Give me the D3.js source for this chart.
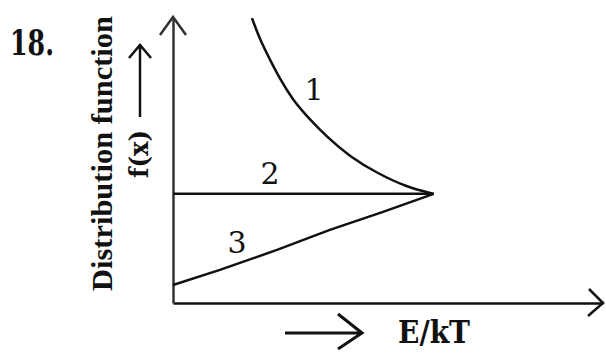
<!DOCTYPE html>
<html>
<head>
<meta charset="utf-8">
<script src="https://cdn.jsdelivr.net/npm/d3@7"></script>
<style>
  body { margin: 0; background: #fff; }
  text { font-family: "DejaVu Serif", "Liberation Serif", serif; fill: #111; }
</style>
</head>
<body>
<svg id="chart" width="606" height="354"></svg>
<script>
// curve readings, x = E/kT, y = f(x)
const curve1X = [0.303, 0.334, 0.372, 0.411, 0.46, 0.514, 0.591, 0.679, 0.783, 0.898, 1.0];
const curve1Y = [2.61, 2.41, 2.23, 2.05, 1.86, 1.71, 1.52, 1.34, 1.19, 1.06, 1.0];
const curve2X = [0, 1.0];
const curve2Y = [1.0, 1.0];
const curve3X = [0, 0.18, 0.399, 0.602, 0.806, 1.0];
const curve3Y = [0.165, 0.303, 0.486, 0.67, 0.835, 1.0];
const curveNames = ["1", "2", "3"];
const labelX = [0.541, 0.372, 0.246];
const labelY = [1.862, 1.09, 0.459];

const svg = d3.select("#chart");
const x = d3.scaleLinear().domain([0, 1.65]).range([173, 603]);
const y = d3.scaleLinear().domain([0, 2.62]).range([303, 17]);
const ink = "#111";

// axes without ticks
svg.append("g")
  .attr("transform", "translate(0," + y(0) + ")")
  .call(d3.axisBottom(x).tickValues([]).tickSizeOuter(0))
  .select(".domain").attr("stroke", ink).attr("stroke-width", 2.5);
svg.append("g")
  .attr("transform", "translate(" + x(0) + ",0)")
  .call(d3.axisLeft(y).tickValues([]).tickSizeOuter(0))
  .select(".domain").attr("stroke", "#333").attr("stroke-width", 2.5);

// open arrow heads at the axis ends
const x1 = x.range()[1], y1 = y.range()[1];
svg.append("path")
  .attr("d", `M${x1 - 14},${y(0) - 14}L${x1},${y(0)}L${x1 - 15},${y(0) + 13}`)
  .attr("fill", "none").attr("stroke", ink).attr("stroke-width", 2.5);
svg.append("path")
  .attr("d", `M${x(0) - 13},${y1 + 18}L${x(0)},${y1}L${x(0) + 13},${y1 + 18}`)
  .attr("fill", "none").attr("stroke", "#333").attr("stroke-width", 2.5);

// curves
const line = d3.line().x(d => x(d[0])).y(d => y(d[1]));
const curves = [
  { pts: d3.zip(curve1X, curve1Y), c: d3.curveBasis },
  { pts: d3.zip(curve2X, curve2Y), c: d3.curveLinear },
  { pts: d3.zip(curve3X, curve3Y), c: d3.curveLinear }
];
svg.selectAll(".curve")
  .data(curves)
  .enter()
  .append("path")
  .attr("class", "curve")
  .attr("d", d => line.curve(d.c)(d.pts))
  .attr("fill", "none")
  .attr("stroke", ink)
  .attr("stroke-width", 2.5);

svg.selectAll(".lbl")
  .data(curveNames)
  .enter()
  .append("text")
  .attr("class", "lbl")
  .attr("x", (d, i) => x(labelX[i]))
  .attr("y", (d, i) => y(labelY[i]))
  .attr("text-anchor", "middle")
  .attr("font-size", "30px")
  .text(d => d);

// question number
svg.append("text")
  .attr("x", 10).attr("y", 55)
  .attr("font-size", "36px").attr("font-weight", "bold")
  .attr("textLength", 44).attr("lengthAdjust", "spacingAndGlyphs")
  .text("18.");

// y label
svg.append("text")
  .attr("transform", "translate(112,291) rotate(-90)")
  .style("font-family", "'Liberation Serif', serif")
  .attr("font-size", "30px").attr("font-weight", "bold")
  .attr("textLength", 275).attr("lengthAdjust", "spacingAndGlyphs")
  .text("Distribution function");
svg.append("text")
  .attr("transform", "translate(148,178) rotate(-90)")
  .attr("font-size", "26px").attr("font-weight", "bold")
  .attr("textLength", 48).attr("lengthAdjust", "spacingAndGlyphs")
  .text("f(x)");
svg.append("path")
  .attr("d", "M140,117L140,45M129,58L140,45L151,58")
  .attr("fill", "none").attr("stroke", ink).attr("stroke-width", 2.5);

// x label
svg.append("path")
  .attr("d", "M285,333L362,333M338,314L362,333L338,349")
  .attr("fill", "none").attr("stroke", ink).attr("stroke-width", 3);
svg.append("text")
  .attr("x", 398).attr("y", 343)
  .attr("font-size", "32px").attr("font-weight", "bold")
  .attr("textLength", 72).attr("lengthAdjust", "spacingAndGlyphs")
  .text("E/kT");
</script>
</body>
</html>
